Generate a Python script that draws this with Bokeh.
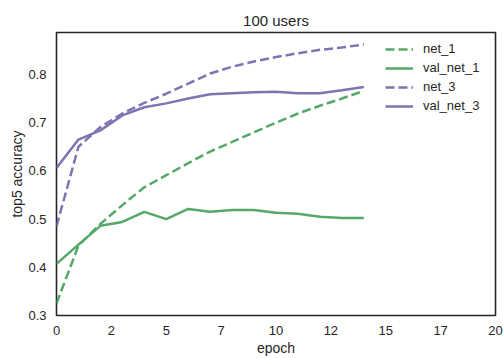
from bokeh.plotting import figure
from bokeh.models import Range1d, FixedTicker, Legend, LegendItem
from bokeh.embed import file_html
from bokeh.resources import INLINE

epochs = list(range(15))
net_1 = [0.325, 0.445, 0.49, 0.529, 0.566, 0.591, 0.616, 0.64, 0.66, 0.68, 0.70, 0.719, 0.735, 0.75, 0.766]
val_net_1 = [0.407, 0.447, 0.486, 0.494, 0.515, 0.50, 0.521, 0.515, 0.519, 0.519, 0.513, 0.511, 0.505, 0.502, 0.502]
net_3 = [0.485, 0.65, 0.691, 0.719, 0.741, 0.76, 0.781, 0.802, 0.816, 0.827, 0.836, 0.844, 0.851, 0.856, 0.862]
val_net_3 = [0.606, 0.665, 0.684, 0.715, 0.732, 0.74, 0.75, 0.759, 0.761, 0.763, 0.764, 0.761, 0.761, 0.767, 0.774]

x_tick_values = [0, 2.5, 5, 7.5, 10, 12.5, 15, 17.5, 20]
x_tick_labels = ["0", "2", "5", "7", "10", "12", "15", "17", "20"]
y_tick_values = [0.3, 0.4, 0.5, 0.6, 0.7, 0.8]

GREEN = "#55A868"
PURPLE = "#8172B2"
TXT = "#262626"
FONT = "Liberation Sans"

p = figure(width=503, height=358, output_backend="svg", toolbar_location=None,
           x_range=Range1d(0, 20), y_range=Range1d(0.3, 0.887),
           min_border_left=56, min_border_right=8, min_border_top=32, min_border_bottom=42,
           title="100 users")
p.title.align = "center"
p.title.text_font = FONT
p.title.text_font_size = "15px"
p.title.text_font_style = "normal"
p.title.text_color = TXT
p.title.standoff = 8

p.xgrid.visible = False
p.ygrid.visible = False
p.outline_line_color = TXT
p.outline_line_width = 1.6
p.outline_line_alpha = 1.0
p.background_fill_color = "white"
p.border_fill_color = "white"

p.xaxis.ticker = FixedTicker(ticks=x_tick_values)
p.xaxis.major_label_overrides = {v: l for v, l in zip(x_tick_values, x_tick_labels)}
p.yaxis.ticker = FixedTicker(ticks=y_tick_values)
p.xaxis.axis_label = "epoch"
p.yaxis.axis_label = "top5 accuracy"
for ax in (p.xaxis[0], p.yaxis[0]):
    ax.axis_line_color = None
    ax.major_tick_line_color = None
    ax.minor_tick_line_color = None
    ax.major_tick_out = 0
    ax.major_tick_in = 0
    ax.major_label_text_font = FONT
    ax.major_label_text_font_size = "13px"
    ax.major_label_text_color = TXT
    ax.axis_label_text_font = FONT
    ax.axis_label_text_font_size = "14px"
    ax.axis_label_text_font_style = "normal"
    ax.axis_label_text_color = TXT
p.xaxis.major_label_standoff = 10
p.xaxis.axis_label_standoff = 2
p.yaxis.major_label_standoff = 10
p.yaxis.axis_label_standoff = 0

r1 = p.line(epochs, net_1, line_color=GREEN, line_width=2.5, line_dash="9 4")
r2 = p.line(epochs, val_net_1, line_color=GREEN, line_width=2.5)
r3 = p.line(epochs, net_3, line_color=PURPLE, line_width=2.5, line_dash="9 4")
r4 = p.line(epochs, val_net_3, line_color=PURPLE, line_width=2.5)

legend = Legend(items=[LegendItem(label="net_1", renderers=[r1]),
                       LegendItem(label="val_net_1", renderers=[r2]),
                       LegendItem(label="net_3", renderers=[r3]),
                       LegendItem(label="val_net_3", renderers=[r4])],
                location=(329, 202))
legend.background_fill_alpha = 0
legend.border_line_color = None
legend.label_text_font = FONT
legend.label_text_font_size = "13px"
legend.label_text_color = TXT
legend.glyph_width = 28
legend.glyph_height = 14
legend.label_height = 14
legend.label_standoff = 10
legend.spacing = 4
legend.padding = 7
legend.margin = 0
p.add_layout(legend)

open("out.html", "w").write(file_html(p, INLINE))
